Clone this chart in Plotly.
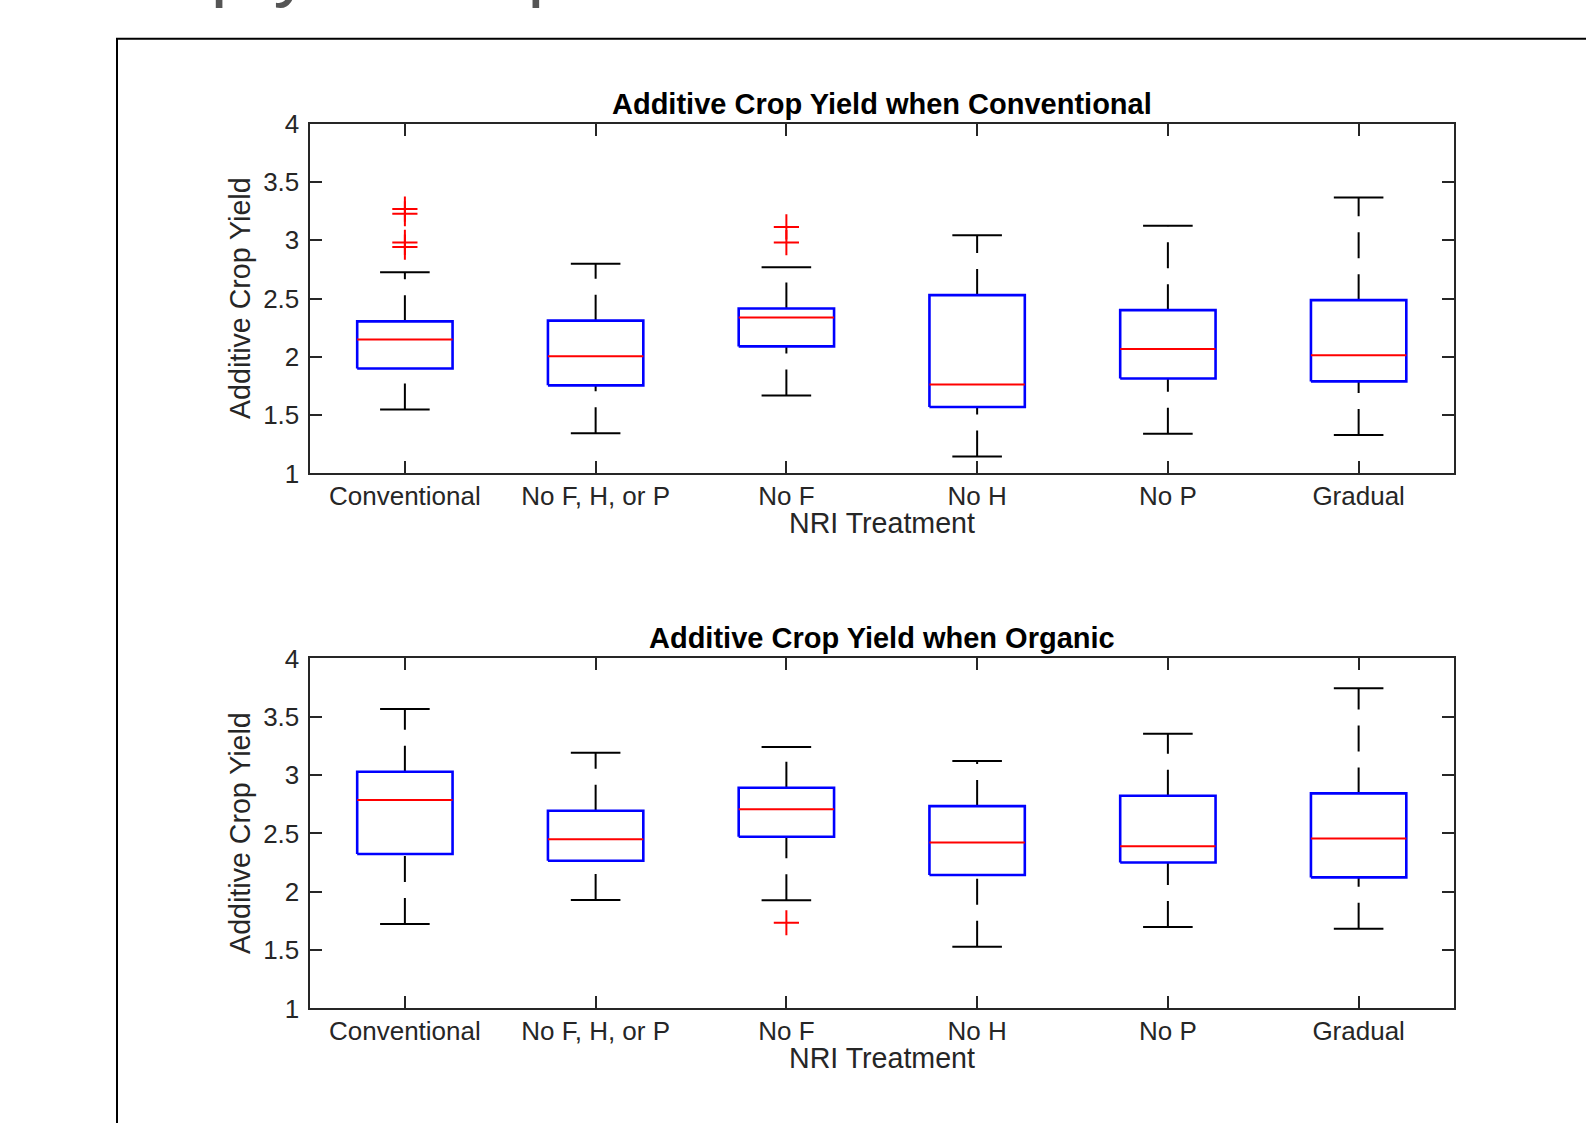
import plotly.graph_objects as go

# ---------------- data ----------------
categories = ["Conventional", "No F, H, or P", "No F", "No H", "No P", "Gradual"]

# Panel 1: Additive Crop Yield when Conventional
conv_low = [1.548, 1.344, 1.669, 1.146, 1.340, 1.329]
conv_q1 = [1.900, 1.755, 2.089, 1.569, 1.814, 1.789]
conv_median = [2.149, 2.004, 2.337, 1.763, 2.066, 2.014]
conv_q3 = [2.304, 2.310, 2.414, 2.529, 2.400, 2.486]
conv_high = [2.726, 2.799, 2.769, 3.043, 3.123, 3.366]
conv_outlier_cat = [0, 0, 0, 0, 2, 2]
conv_outlier_val = [3.267, 3.227, 2.981, 2.941, 3.114, 2.980]

# Panel 2: Additive Crop Yield when Organic
org_low = [1.723, 1.929, 1.926, 1.529, 1.697, 1.683]
org_q1 = [2.323, 2.266, 2.471, 2.143, 2.251, 2.123]
org_median = [2.786, 2.449, 2.706, 2.423, 2.389, 2.457]
org_q3 = [3.029, 2.694, 2.891, 2.734, 2.823, 2.843]
org_high = [3.566, 3.191, 3.240, 3.120, 3.354, 3.745]
org_outlier_cat = [2]
org_outlier_val = [1.734]

y_ticks = [1, 1.5, 2, 2.5, 3, 3.5, 4]
y_ticktext = ["1", "1.5", "2", "2.5", "3", "3.5", "4"]

# ---------------- style ----------------
W, H = 1586, 1123
FONT = "Liberation Sans, Arial, Helvetica, sans-serif"
AX = "#262626"
BOX_HALF = 0.25
CAP_HALF = 0.13


def px(x):
    return x / W


def py(y):
    return 1 - y / H


fig = go.Figure()


def add_panel(xa, ya, low, q1, med, q3, high, out_cat, out_val):
    n = len(low)
    pos = list(range(1, n + 1))
    # whiskers (dashed), drawn from lower value to higher value
    wx, wy = [], []
    for i in range(n):
        wx += [pos[i], pos[i], None, pos[i], pos[i], None]
        wy += [low[i], q1[i], None, q3[i], high[i], None]
    fig.add_trace(go.Scatter(x=wx, y=wy, xaxis=xa, yaxis=ya, mode="lines",
                             line=dict(color="black", width=2, dash="26px,16px"),
                             hoverinfo="skip", showlegend=False))
    # caps
    cx, cy = [], []
    for i in range(n):
        for v in (low[i], high[i]):
            cx += [pos[i] - CAP_HALF, pos[i] + CAP_HALF, None]
            cy += [v, v, None]
    fig.add_trace(go.Scatter(x=cx, y=cy, xaxis=xa, yaxis=ya, mode="lines",
                             line=dict(color="black", width=2),
                             hoverinfo="skip", showlegend=False))
    # boxes
    bx, by = [], []
    for i in range(n):
        l, r = pos[i] - BOX_HALF, pos[i] + BOX_HALF
        bx += [l, r, r, l, l, None]
        by += [q1[i], q1[i], q3[i], q3[i], q1[i], None]
    fig.add_trace(go.Scatter(x=bx, y=by, xaxis=xa, yaxis=ya, mode="lines",
                             line=dict(color="#0000FF", width=2.6),
                             hoverinfo="skip", showlegend=False))
    # medians
    mx, my = [], []
    for i in range(n):
        mx += [pos[i] - BOX_HALF, pos[i] + BOX_HALF, None]
        my += [med[i], med[i], None]
    fig.add_trace(go.Scatter(x=mx, y=my, xaxis=xa, yaxis=ya, mode="lines",
                             line=dict(color="#FF0000", width=2),
                             hoverinfo="skip", showlegend=False))
    # outliers
    fig.add_trace(go.Scatter(x=[pos[c] for c in out_cat], y=out_val, xaxis=xa, yaxis=ya,
                             mode="markers",
                             marker=dict(symbol="cross-thin", size=18,
                                         line=dict(color="#FF0000", width=2)),
                             hoverinfo="skip", showlegend=False))


add_panel("x", "y", conv_low, conv_q1, conv_median, conv_q3, conv_high,
          conv_outlier_cat, conv_outlier_val)
add_panel("x2", "y2", org_low, org_q1, org_median, org_q3, org_high,
          org_outlier_cat, org_outlier_val)

AX_L, AX_R = 309.5, 1454
TOP1, BOT1 = 123.6, 473.4
TOP2, BOT2 = 658.4, 1008.4


def xaxis(anchor):
    return dict(domain=[px(AX_L), px(AX_R)], anchor=anchor, range=[0.5, 6.5],
                tickmode="array", tickvals=list(range(1, 7)), ticktext=categories,
                ticks="inside", ticklen=12, tickwidth=2, tickcolor=AX,
                showline=True, linecolor=AX, linewidth=2, mirror="ticks",
                showgrid=False, zeroline=False, ticklabelstandoff=-2, automargin=False,
                tickfont=dict(family=FONT, size=26, color=AX))


def yaxis(anchor, top, bot):
    return dict(domain=[py(bot), py(top)], anchor=anchor, range=[1, 4],
                tickmode="array", tickvals=y_ticks, ticktext=y_ticktext,
                ticks="inside", ticklen=12, tickwidth=2, tickcolor=AX,
                showline=True, linecolor=AX, linewidth=2, mirror="ticks",
                showgrid=False, zeroline=False, ticklabelstandoff=3, automargin=False,
                tickfont=dict(family=FONT, size=26, color=AX))


cx_mid = px((AX_L + AX_R) / 2)
annotations = [
    # page title, cut off by the top edge of the image
    dict(text="Crop yield improvement", x=px(88), y=py(11), xref="paper", yref="paper",
         xanchor="left", yanchor="bottom", showarrow=False,
         font=dict(family=FONT, size=75, color="#555555")),
    dict(text="<b>Additive Crop Yield when Conventional</b>", x=cx_mid, y=py(103.5),
         xref="paper", yref="paper", xanchor="center", yanchor="middle", showarrow=False,
         font=dict(family=FONT, size=29, color="black")),
    dict(text="<b>Additive Crop Yield when Organic</b>", x=cx_mid, y=py(637.5),
         xref="paper", yref="paper", xanchor="center", yanchor="middle", showarrow=False,
         font=dict(family=FONT, size=29, color="black")),
    dict(text="NRI Treatment", x=cx_mid, y=py(523), xref="paper", yref="paper",
         xanchor="center", yanchor="middle", showarrow=False,
         font=dict(family=FONT, size=28.6, color=AX)),
    dict(text="NRI Treatment", x=cx_mid, y=py(1058), xref="paper", yref="paper",
         xanchor="center", yanchor="middle", showarrow=False,
         font=dict(family=FONT, size=28.6, color=AX)),
    dict(text="Additive Crop Yield", x=px(240.5), y=py((TOP1 + BOT1) / 2),
         xref="paper", yref="paper", xanchor="center", yanchor="middle",
         textangle=-90, showarrow=False, font=dict(family=FONT, size=28.6, color=AX)),
    dict(text="Additive Crop Yield", x=px(240.5), y=py((TOP2 + BOT2) / 2),
         xref="paper", yref="paper", xanchor="center", yanchor="middle",
         textangle=-90, showarrow=False, font=dict(family=FONT, size=28.6, color=AX)),
]

shapes = [
    # outer figure frame (extends past the right and bottom edges)
    dict(type="rect", xref="paper", yref="paper", x0=px(117), x1=1.02, y0=-0.02, y1=py(38.7),
         line=dict(color="black", width=2), fillcolor="rgba(0,0,0,0)", layer="below"),
]

fig.update_layout(
    template="none",
    width=W, height=H, autosize=False,
    margin=dict(l=0, r=0, t=0, b=0, pad=0),
    paper_bgcolor="white", plot_bgcolor="white",
    showlegend=False,
    xaxis=xaxis("y"), yaxis=yaxis("x", TOP1, BOT1),
    xaxis2=xaxis("y2"), yaxis2=yaxis("x2", TOP2, BOT2),
    annotations=annotations, shapes=shapes,
    font=dict(family=FONT),
)

fig.write_html(
    "out.html",
    config={"displayModeBar": False},
    post_script="document.body.style.margin='0';"
                "document.body.style.padding='0';"
                "document.documentElement.style.overflow='hidden';"
                "document.body.style.overflow='hidden';",
)
